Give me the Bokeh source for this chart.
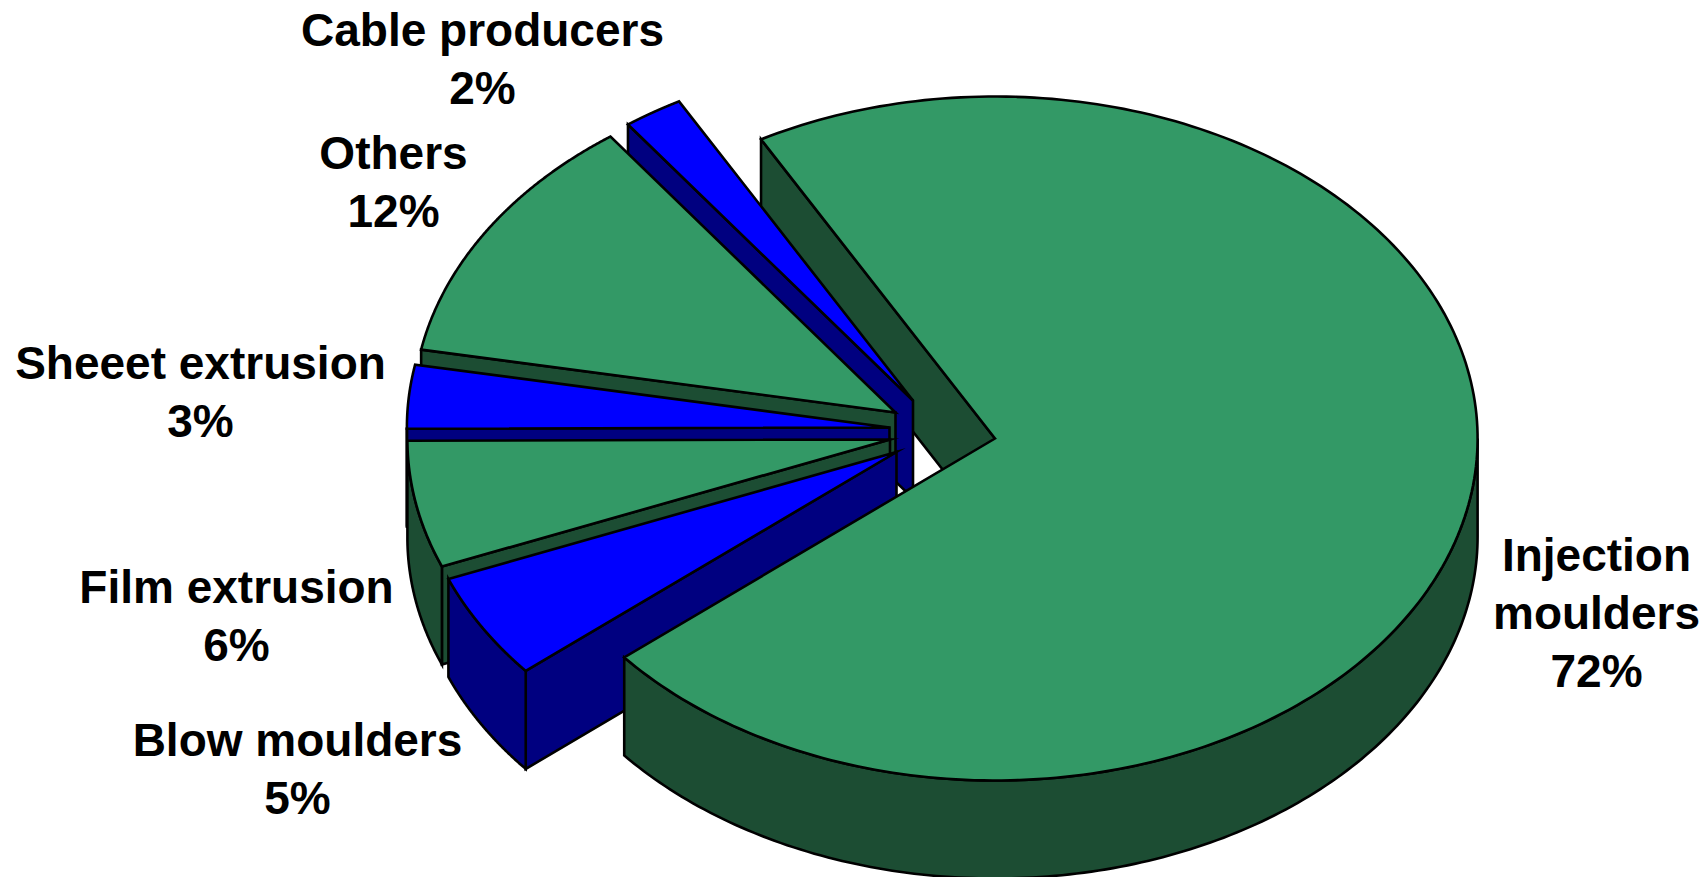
import numpy as np
from bokeh.core.properties import value
from bokeh.embed import file_html
from bokeh.plotting import figure
from bokeh.resources import INLINE

# Market shares, clockwise from the large slice
names = ["Injection moulders", "Blow moulders", "Film extrusion",
         "Sheeet extrusion", "Others", "Cable producers"]
shares = [72, 5, 6, 3, 12, 2]

# Label lines per slice; the percentage is appended from shares
label_lines = [["Injection", "moulders"], ["Blow moulders"], ["Film extrusion"],
               ["Sheeet extrusion"], ["Others"], ["Cable producers"]]
label_x = [1596, 297, 236, 200, 393, 482]
label_y = [554, 739, 586, 362, 152, 29]

# Apex of every exploded slice on the canvas
apex_x = [994.5, 896, 889.5, 889, 895, 912.5]
apex_y = [438, 451.5, 439, 427, 412, 400]

GREEN, DARK_GREEN = "#339966", "#1C4D33"
BLUE, NAVY = "#0000FF", "#000080"
top_colors = [GREEN, BLUE, GREEN, BLUE, GREEN, BLUE]
wall_colors = [DARK_GREEN, NAVY, DARK_GREEN, NAVY, DARK_GREEN, NAVY]

RX, RY, DEPTH = 482.6, 342.0, 98.0
START_ANGLE = -29.0
LINE_HEIGHT = 58
FONT_SIZE = "46px"

W, H = 1708, 877
p = figure(width=W, height=H, x_range=(0, W), y_range=(H, 0),
           output_backend="svg", toolbar_location=None, min_border=0,
           outline_line_color=None, background_fill_color="white")
p.axis.visible = False
p.grid.visible = False


def face(xs, ys, color):
    p.patch(list(xs), list(ys), fill_color=color, line_color="black",
            line_width=2.6, line_join="miter")


def rim(i, angles):
    rad = np.radians(angles)
    return apex_x[i] + RX * np.sin(rad), apex_y[i] - RY * np.cos(rad)


ends = START_ANGLE + 3.6 * np.cumsum(shares)
starts = ends - 3.6 * np.array(shares)


def draw_side_wall(i):
    ox, oy = rim(i, np.array([starts[i]]))
    ax, ay = apex_x[i], apex_y[i]
    face([ax, ox[0], ox[0], ax], [ay, oy[0], oy[0] + DEPTH, ay + DEPTH], wall_colors[i])


def draw_outer_wall(i):
    # Only the part of the rim that faces the viewer
    lo, hi = max(starts[i], 90.0), min(ends[i], 270.0)
    if hi <= lo:
        return
    x, y = rim(i, np.linspace(lo, hi, 160))
    face(np.r_[x, x[::-1]], np.r_[y, y[::-1] + DEPTH], wall_colors[i])


def draw_top(i):
    x, y = rim(i, np.linspace(starts[i], ends[i], 240))
    face(np.r_[apex_x[i], x], np.r_[apex_y[i], y], top_colors[i])


# Back to front: the big slice's cut face first, its top and rim last
draw_side_wall(0)
for i in [5, 4, 3, 2, 1]:
    draw_side_wall(i)
    draw_outer_wall(i)
    draw_top(i)
draw_outer_wall(0)
draw_top(0)

for i, lines in enumerate(label_lines):
    rows = lines + [f"{shares[i]}%"]
    ys = [label_y[i] + k * LINE_HEIGHT for k in range(len(rows))]
    p.text(x=[label_x[i]] * len(rows), y=ys, text=rows,
           text_font=value("Liberation Sans"), text_font_style="bold",
           text_font_size=FONT_SIZE, text_color="black",
           text_align="center", text_baseline="middle")

open("out.html", "w").write(file_html(p, INLINE))
